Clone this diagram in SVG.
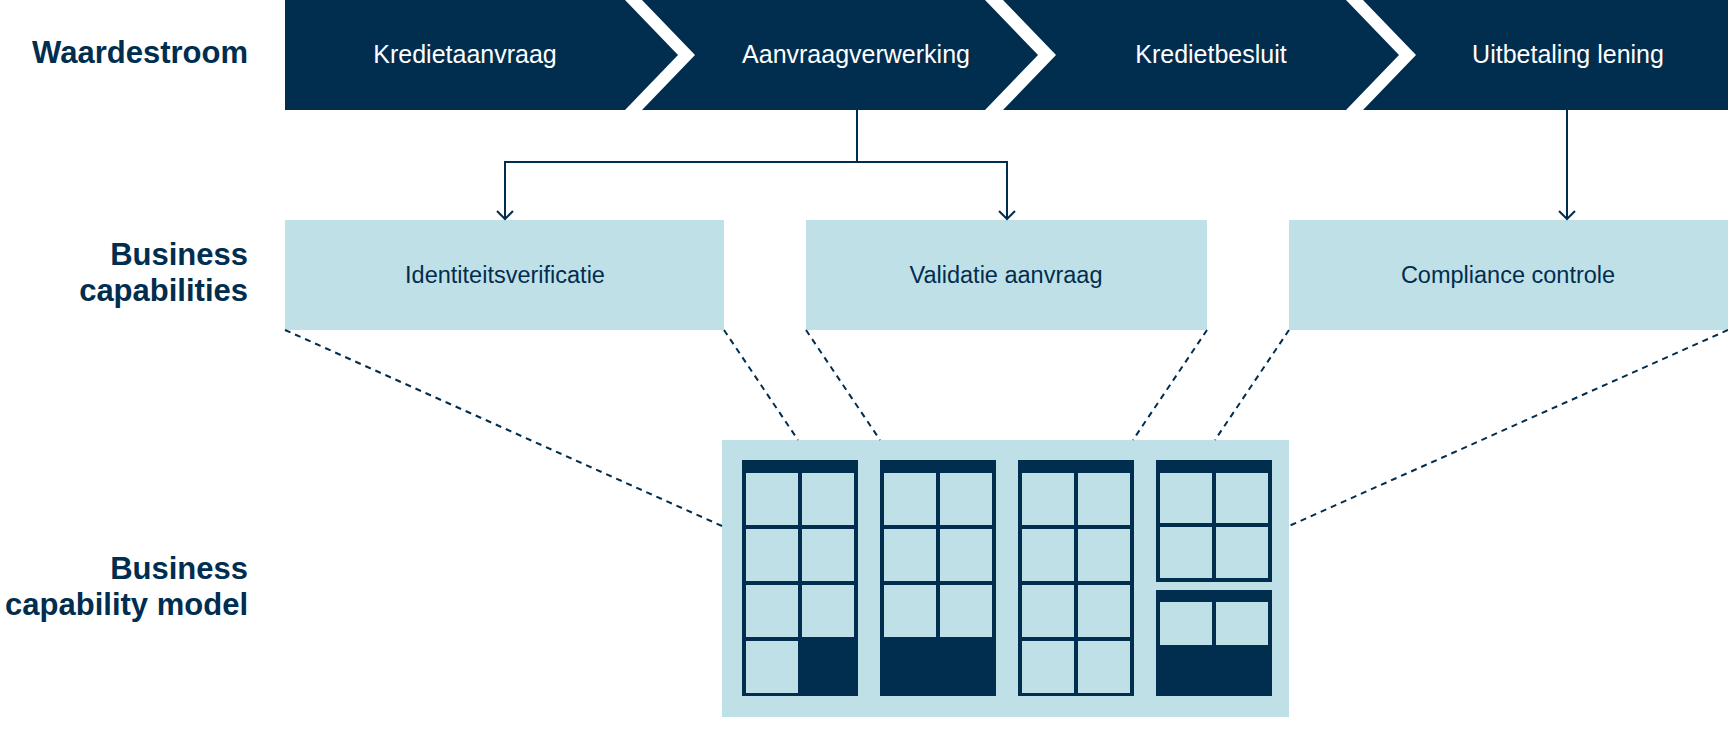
<svg xmlns="http://www.w3.org/2000/svg" width="1728" height="755" viewBox="0 0 1728 755">
  <style>
    .navy { fill: #012d4f; }
    .light { fill: #c0e0e8; }
    .lbl { font-family: "Liberation Sans", Arial, sans-serif; font-weight: bold; font-size: 31px; fill: #012d4f; text-anchor: end; }
    .vs { font-family: "Liberation Sans", Arial, sans-serif; font-size: 25px; fill: #ffffff; text-anchor: middle; }
    .cap { font-family: "Liberation Sans", Arial, sans-serif; font-size: 23.5px; fill: #012d4f; text-anchor: middle; }
    .conn { fill: none; stroke: #012d4f; stroke-width: 2; }
    .dash { fill: none; stroke: #012d4f; stroke-width: 2; stroke-dasharray: 6 5; }
  </style>
  <defs>
    <marker id="arr" viewBox="-10 -10 20 20" refX="0" refY="0" markerWidth="20" markerHeight="20" markerUnits="userSpaceOnUse" orient="auto">
      <path d="M-8,-8 L0,0 L-8,8" fill="none" stroke="#012d4f" stroke-width="2"/>
    </marker>
  </defs>
  <rect width="1728" height="755" fill="#ffffff"/>

  <!-- row labels -->
  <g id="labels">
    <text class="lbl" x="248" y="63">Waardestroom</text>
    <text class="lbl" x="248" y="265">Business</text>
    <text class="lbl" x="248" y="301">capabilities</text>
    <text class="lbl" x="248" y="579">Business</text>
    <text class="lbl" x="248" y="615">capability model</text>
  </g>

  <!-- value stream -->
  <g id="vs1">
    <polygon class="navy" points="285,0 625,0 678,55 625,110 285,110"/>
    <text class="vs" x="465" y="63">Kredietaanvraag</text>
  </g>
  <g id="vs2">
    <polygon class="navy" points="642,0 985,0 1038,55 985,110 642,110 695,55"/>
    <text class="vs" x="856" y="63">Aanvraagverwerking</text>
  </g>
  <g id="vs3">
    <polygon class="navy" points="1003,0 1346,0 1399,55 1346,110 1003,110 1056,55"/>
    <text class="vs" x="1211" y="63">Kredietbesluit</text>
  </g>
  <g id="vs4">
    <polygon class="navy" points="1363,0 1728,0 1728,110 1363,110 1416,55"/>
    <text class="vs" x="1568" y="63">Uitbetaling lening</text>
  </g>

  <!-- business capabilities -->
  <g id="cap1">
    <rect class="light" x="285" y="220" width="439" height="110"/>
    <text class="cap" x="505" y="283">Identiteitsverificatie</text>
  </g>
  <g id="cap2">
    <rect class="light" x="806" y="220" width="401" height="110"/>
    <text class="cap" x="1006" y="283">Validatie aanvraag</text>
  </g>
  <g id="cap3">
    <rect class="light" x="1289" y="220" width="439" height="110"/>
    <text class="cap" x="1508" y="283">Compliance controle</text>
  </g>

  <!-- capability model -->
  <g id="model">
    <rect class="light" x="722" y="440" width="567" height="277"/>
    <!-- column 1 -->
    <rect class="navy" x="742" y="460" width="116" height="236"/>
    <rect class="light" x="746" y="473" width="52" height="52"/>
    <rect class="light" x="802" y="473" width="52" height="52"/>
    <rect class="light" x="746" y="529" width="52" height="52"/>
    <rect class="light" x="802" y="529" width="52" height="52"/>
    <rect class="light" x="746" y="585" width="52" height="52"/>
    <rect class="light" x="802" y="585" width="52" height="52"/>
    <rect class="light" x="746" y="641" width="52" height="52"/>
    <!-- column 2 -->
    <rect class="navy" x="880" y="460" width="116" height="236"/>
    <rect class="light" x="884" y="473" width="52" height="52"/>
    <rect class="light" x="940" y="473" width="52" height="52"/>
    <rect class="light" x="884" y="529" width="52" height="52"/>
    <rect class="light" x="940" y="529" width="52" height="52"/>
    <rect class="light" x="884" y="585" width="52" height="52"/>
    <rect class="light" x="940" y="585" width="52" height="52"/>
    <!-- column 3 -->
    <rect class="navy" x="1018" y="460" width="116" height="236"/>
    <rect class="light" x="1022" y="473" width="52" height="52"/>
    <rect class="light" x="1078" y="473" width="52" height="52"/>
    <rect class="light" x="1022" y="529" width="52" height="52"/>
    <rect class="light" x="1078" y="529" width="52" height="52"/>
    <rect class="light" x="1022" y="585" width="52" height="52"/>
    <rect class="light" x="1078" y="585" width="52" height="52"/>
    <rect class="light" x="1022" y="641" width="52" height="52"/>
    <rect class="light" x="1078" y="641" width="52" height="52"/>
    <!-- column 4 upper -->
    <rect class="navy" x="1156" y="460" width="116" height="122"/>
    <rect class="light" x="1160" y="473" width="52" height="50"/>
    <rect class="light" x="1216" y="473" width="52" height="50"/>
    <rect class="light" x="1160" y="527" width="52" height="51"/>
    <rect class="light" x="1216" y="527" width="52" height="51"/>
    <!-- column 4 lower -->
    <rect class="navy" x="1156" y="590" width="116" height="106"/>
    <rect class="light" x="1160" y="602" width="52" height="43"/>
    <rect class="light" x="1216" y="602" width="52" height="43"/>
  </g>

  <!-- connectors -->
  <g id="connectors">
    <path class="conn" d="M857,110 V162"/>
    <path class="conn" d="M857,162 H505 V219" marker-end="url(#arr)"/>
    <path class="conn" d="M857,162 H1007 V219" marker-end="url(#arr)"/>
    <path class="conn" d="M1567,110 V219" marker-end="url(#arr)"/>
    <line class="dash" x1="285" y1="330" x2="722" y2="526"/>
    <line class="dash" x1="724" y1="330" x2="798" y2="440"/>
    <line class="dash" x1="806" y1="330" x2="880" y2="440"/>
    <line class="dash" x1="1207" y1="330" x2="1133" y2="440"/>
    <line class="dash" x1="1289" y1="330" x2="1215" y2="440"/>
    <line class="dash" x1="1728" y1="330" x2="1289" y2="526"/>
  </g>
</svg>
